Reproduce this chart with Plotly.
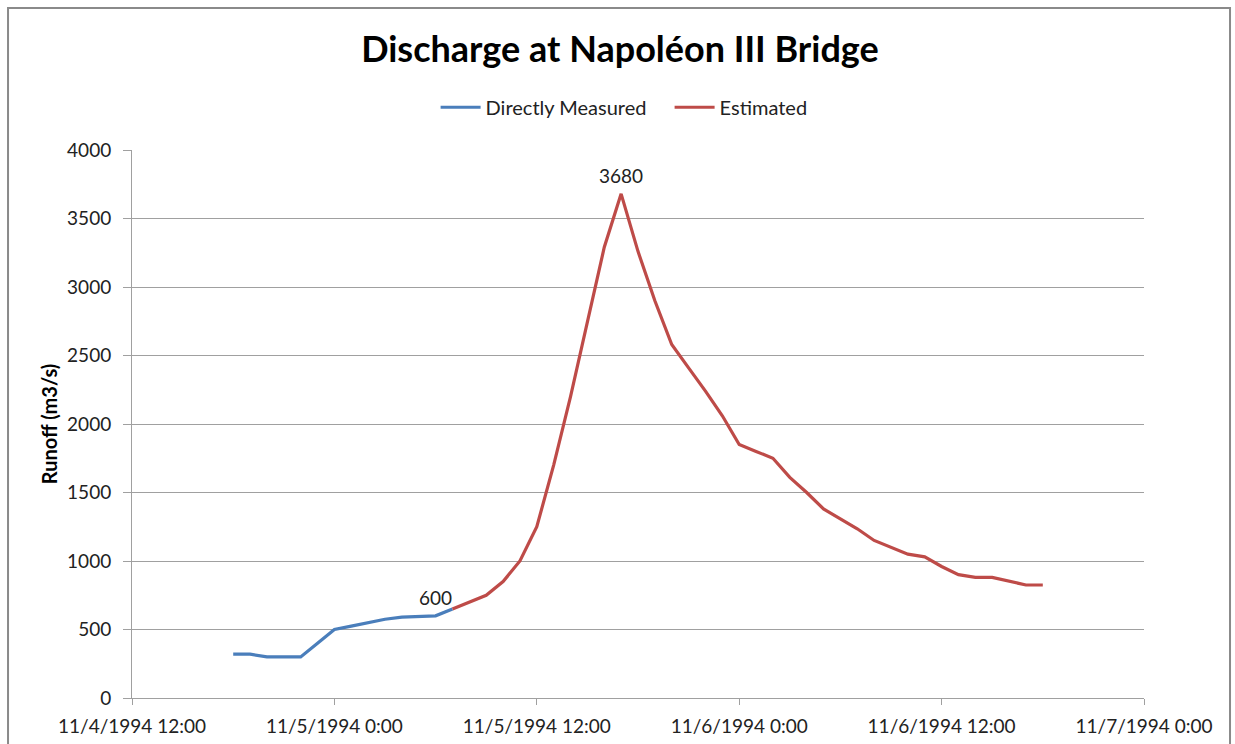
import plotly.graph_objects as go

# Hourly discharge readings (m3/s)
measured_times = [
    "1994-11-04 18:00", "1994-11-04 19:00", "1994-11-04 20:00", "1994-11-04 21:00",
    "1994-11-04 22:00", "1994-11-04 23:00", "1994-11-05 00:00", "1994-11-05 01:00",
    "1994-11-05 02:00", "1994-11-05 03:00", "1994-11-05 04:00", "1994-11-05 05:00",
    "1994-11-05 06:00", "1994-11-05 07:00",
]
measured_values = [320, 320, 300, 300, 300, 400, 500, 525, 550, 575, 590, 595, 600, 650]

estimated_times = [
    "1994-11-05 07:00", "1994-11-05 08:00", "1994-11-05 09:00", "1994-11-05 10:00",
    "1994-11-05 11:00", "1994-11-05 12:00", "1994-11-05 13:00", "1994-11-05 14:00",
    "1994-11-05 15:00", "1994-11-05 16:00", "1994-11-05 17:00", "1994-11-05 18:00",
    "1994-11-05 19:00", "1994-11-05 20:00", "1994-11-05 21:00", "1994-11-05 22:00",
    "1994-11-05 23:00", "1994-11-06 00:00", "1994-11-06 01:00", "1994-11-06 02:00",
    "1994-11-06 03:00", "1994-11-06 04:00", "1994-11-06 05:00", "1994-11-06 06:00",
    "1994-11-06 07:00", "1994-11-06 08:00", "1994-11-06 09:00", "1994-11-06 10:00",
    "1994-11-06 11:00", "1994-11-06 12:00", "1994-11-06 13:00", "1994-11-06 14:00",
    "1994-11-06 15:00", "1994-11-06 16:00", "1994-11-06 17:00", "1994-11-06 18:00",
]
estimated_values = [
    650, 700, 750, 850, 1000, 1250, 1700, 2200, 2750, 3290, 3680, 3260,
    2900, 2580, 2410, 2240, 2060, 1850, 1800, 1750, 1610, 1500, 1380, 1310,
    1235, 1150, 1100, 1050, 1030, 960, 900, 880, 880, 850, 825, 825,
]

x_range = ["1994-11-04 12:00", "1994-11-07 00:00"]
y_ticks = [0, 500, 1000, 1500, 2000, 2500, 3000, 3500, 4000]

FONT = "Lato"
BLUE = "#4A7EBB"
RED = "#BE4B48"
GRID = "#A0A0A0"
TEXT = "#222222"

fig = go.Figure()
fig.add_trace(go.Scatter(
    x=measured_times, y=measured_values, mode="lines", name="Directly Measured",
    line=dict(color=BLUE, width=3.2),
))
fig.add_trace(go.Scatter(
    x=estimated_times, y=estimated_values, mode="lines", name="Estimated",
    line=dict(color=RED, width=3.2),
))

# Value labels: the 6:00 measured reading and the flood peak
label_points = [
    (measured_times[12], measured_values[12]),
    (estimated_times[estimated_values.index(max(estimated_values))], max(estimated_values)),
]
for lx, ly in label_points:
    fig.add_annotation(
        x=lx, y=ly, text=str(ly), showarrow=False, yanchor="bottom", yshift=5,
        font=dict(family=FONT, size=19, color=TEXT),
    )

# Outer chart frame
fig.add_shape(
    type="rect", xref="paper", yref="paper",
    x0=-0.1225, x1=1.085, y0=-0.3, y1=1.259,
    line=dict(color="#8A8A8A", width=2), layer="below",
)

fig.update_layout(
    width=1235, height=744,
    margin=dict(l=132, r=91, t=150, b=46),
    paper_bgcolor="white", plot_bgcolor="white",
    title=dict(
        text="<b>Discharge at Napoléon III Bridge</b>",
        x=0.502, xanchor="center", y=0.934, yanchor="middle", yref="container",
        font=dict(family=FONT, size=36, color="#000000"),
    ),
    legend=dict(
        orientation="h", x=0.300, xanchor="left", y=1.078, yanchor="middle",
        font=dict(family=FONT, size=20, color=TEXT),
        itemwidth=40, tracegroupgap=0, entrywidth=179, entrywidthmode="pixels",
    ),
    xaxis=dict(
        type="date", range=x_range, dtick=43200000, tick0="1994-11-04 12:00",
        tickformat="%-m/%-d/%Y %-H:%M", automargin=False,
        showgrid=False, zeroline=False,
        showline=True, linecolor=GRID, linewidth=1,
        ticks="outside", ticklen=6, tickcolor=GRID, ticklabelstandoff=5,
        tickfont=dict(family=FONT, size=19, color=TEXT),
    ),
    yaxis=dict(
        range=[0, 4000], tickvals=y_ticks, automargin=False,
        showgrid=True, gridcolor=GRID, gridwidth=1, zeroline=False,
        showline=True, linecolor=GRID, linewidth=1,
        ticks="outside", ticklen=8, tickcolor=GRID, ticklabelstandoff=8,
        tickfont=dict(family=FONT, size=19, color=TEXT),
        title=dict(text="<b>Runoff (m3/s)</b>", standoff=4,
                   font=dict(family=FONT, size=20, color="#000000")),
    ),
)

fig.write_html("out.html")
